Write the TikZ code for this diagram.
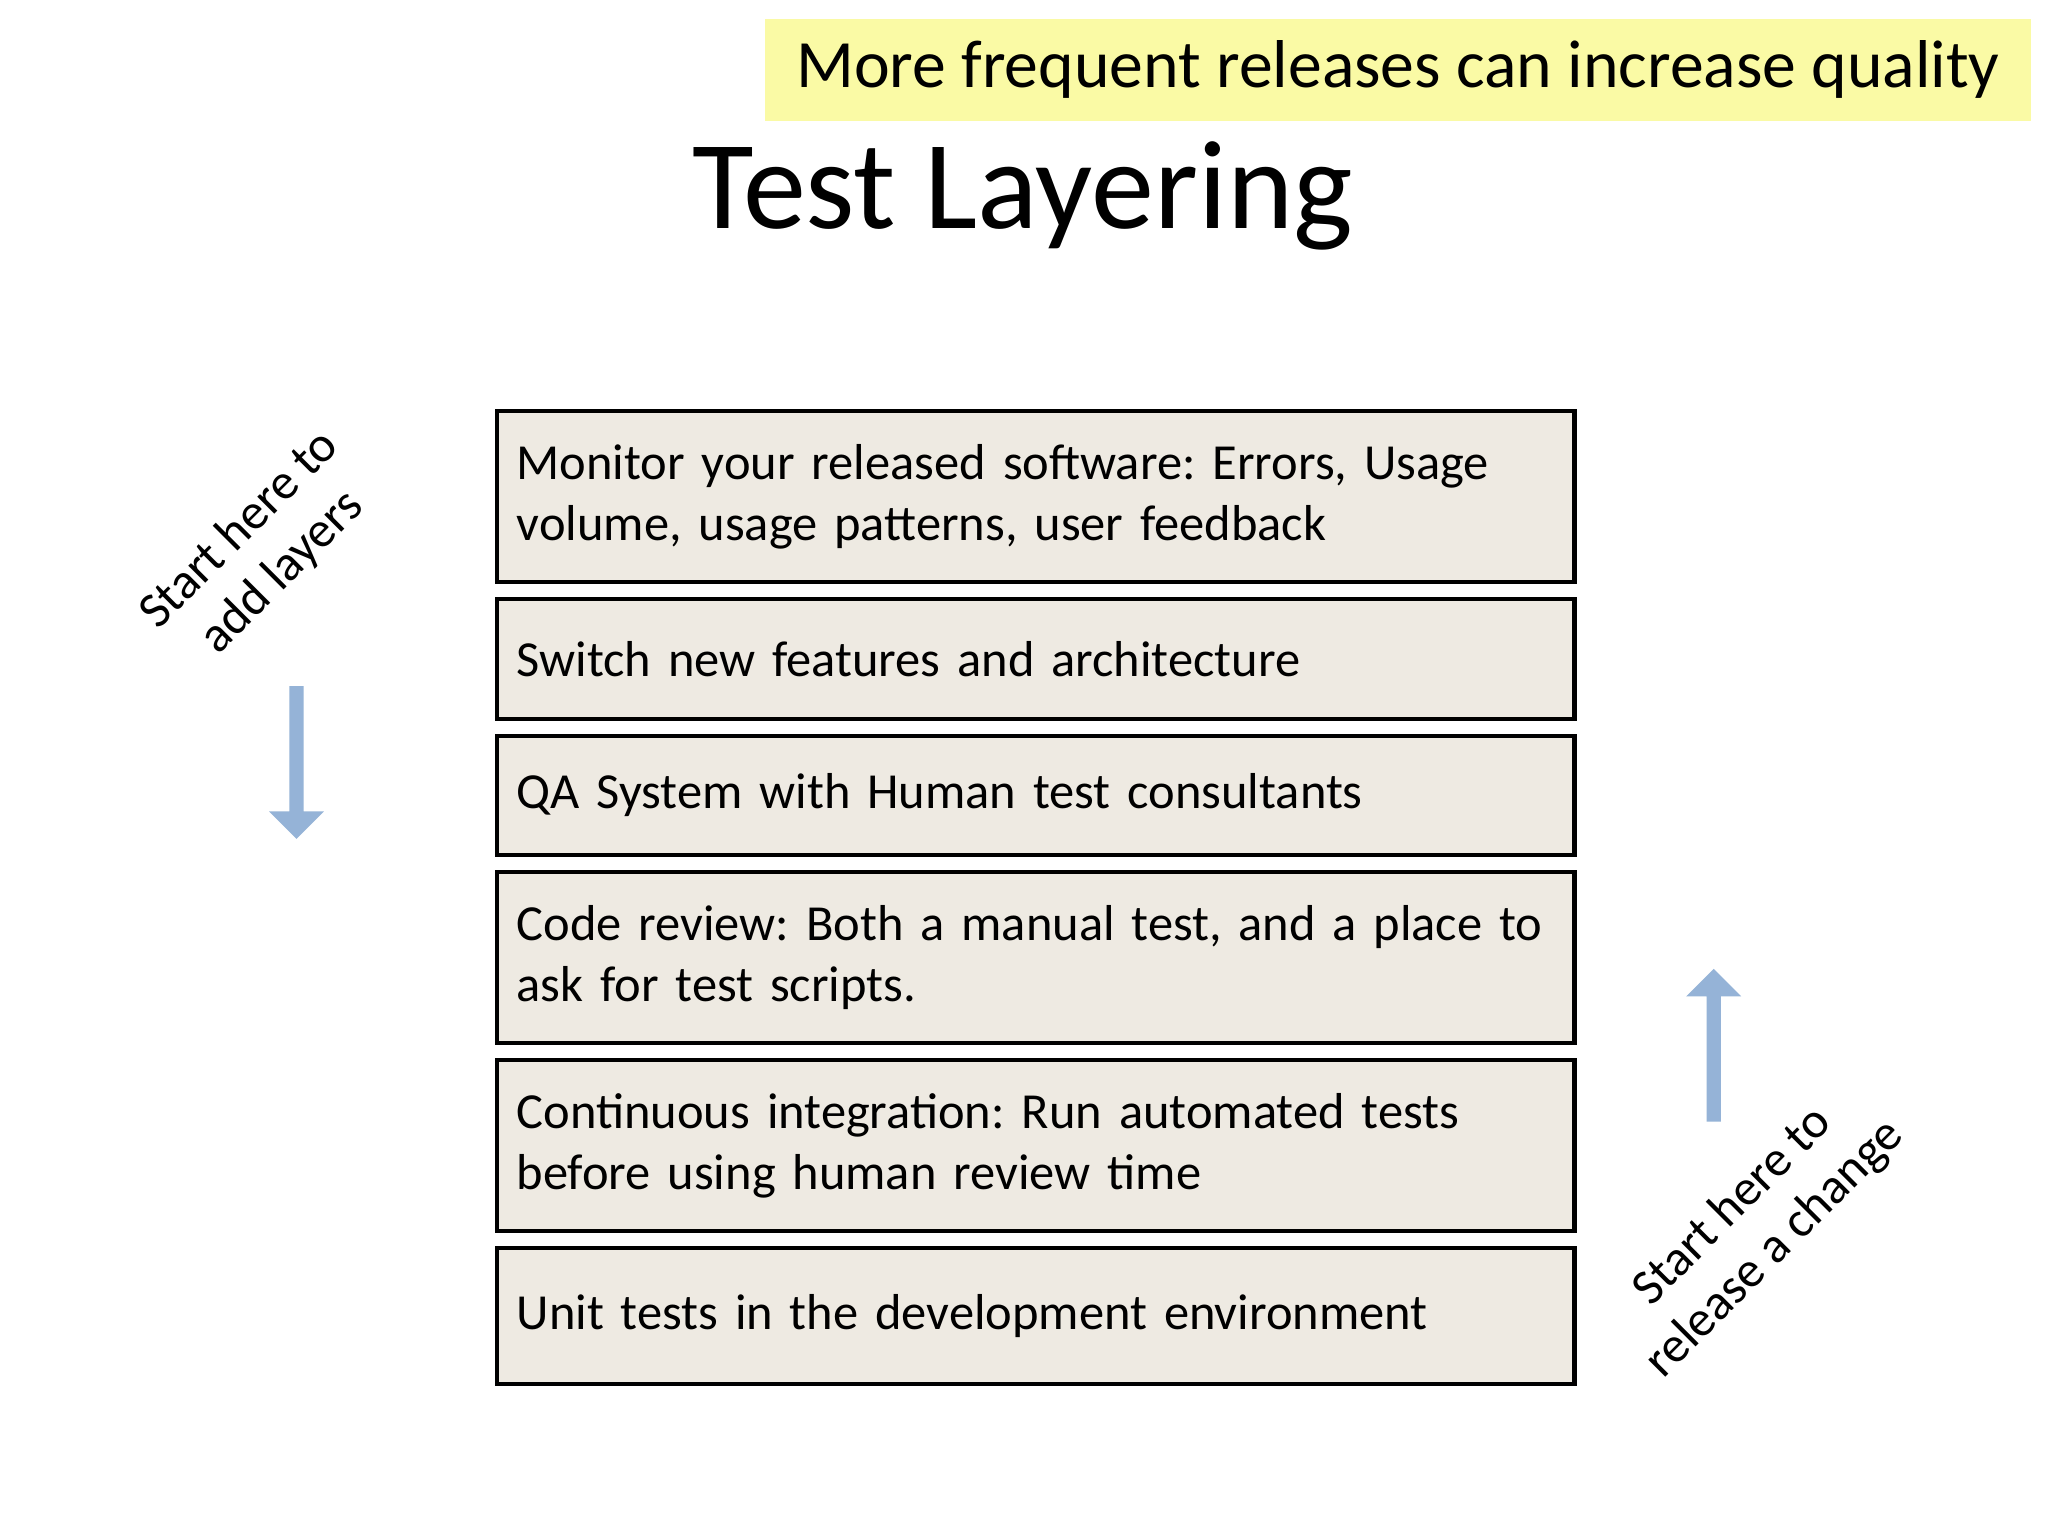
\documentclass[tikz,border=0pt]{standalone}
\usepackage{fontspec}
\setmainfont{Carlito}
\usetikzlibrary{shapes.arrows}
\definecolor{boxfill}{HTML}{EEEAE2}
\definecolor{bannerfill}{HTML}{FAFAA5}
\definecolor{arrowblue}{HTML}{95B3D7}
\tikzset{
 layer/.style={draw=black, line width=1.8pt, fill=boxfill, minimum width=16.46cm, text width=15.9cm, align=left, anchor=north west, inner xsep=0.3cm, inner ysep=0pt, font=\fontsize{22}{26.5}\selectfont},
 side/.style={rotate=45, align=center, font=\fontsize{22}{26}\selectfont},
 blockarrow/.style={single arrow, draw=none, fill=arrowblue, minimum width=0.84cm, single arrow head extend=0.02cm, inner sep=0pt, single arrow head indent=0pt}
}
\frenchspacing
\begin{document}
\begin{tikzpicture}[x=0.02cm,y=-0.02cm]
\useasboundingbox[fill=white] (0,0) rectangle (1568,1176);
\node[fill=bannerfill, minimum width=19.4cm, minimum height=1.56cm, anchor=north west, font=\fontsize{29.5}{34}\selectfont] (banner) at (585,14) {More frequent releases can increase quality};
\node[font=\fontsize{55}{60}\selectfont] (title) at (783,150) {Test Layering};
\node[layer, minimum height=2.62cm] (l1) at (379,313) {Monitor your released software: Errors, Usage\\volume, usage patterns, user feedback};
\node[layer, minimum height=1.84cm] (l2) at (379,457) {Switch new features and architecture};
\node[layer, minimum height=1.82cm] (l3) at (379,562) {QA System with Human test consultants};
\node[layer, minimum height=2.62cm] (l4) at (379,666) {Code review: Both a manual test, and a place to\\ask for test scripts.};
\node[layer, minimum height=2.62cm] (l5) at (379,810) {Continuous integration: Run automated tests\\before using human review time};
\node[layer, minimum height=2.08cm] (l6) at (379,954) {Unit tests in the development environment};
\node[side] (s1) at (200,422) {Start here to\\add layers};
\node[side] (s2) at (1343,940) {Start here to\\release a change};
\node[blockarrow, rotate=-90, minimum height=2.34cm] (a1) at (227,581) {};
\node[blockarrow, rotate=90, minimum height=2.34cm] (a2) at (1312,803) {};
\end{tikzpicture}
\end{document}
